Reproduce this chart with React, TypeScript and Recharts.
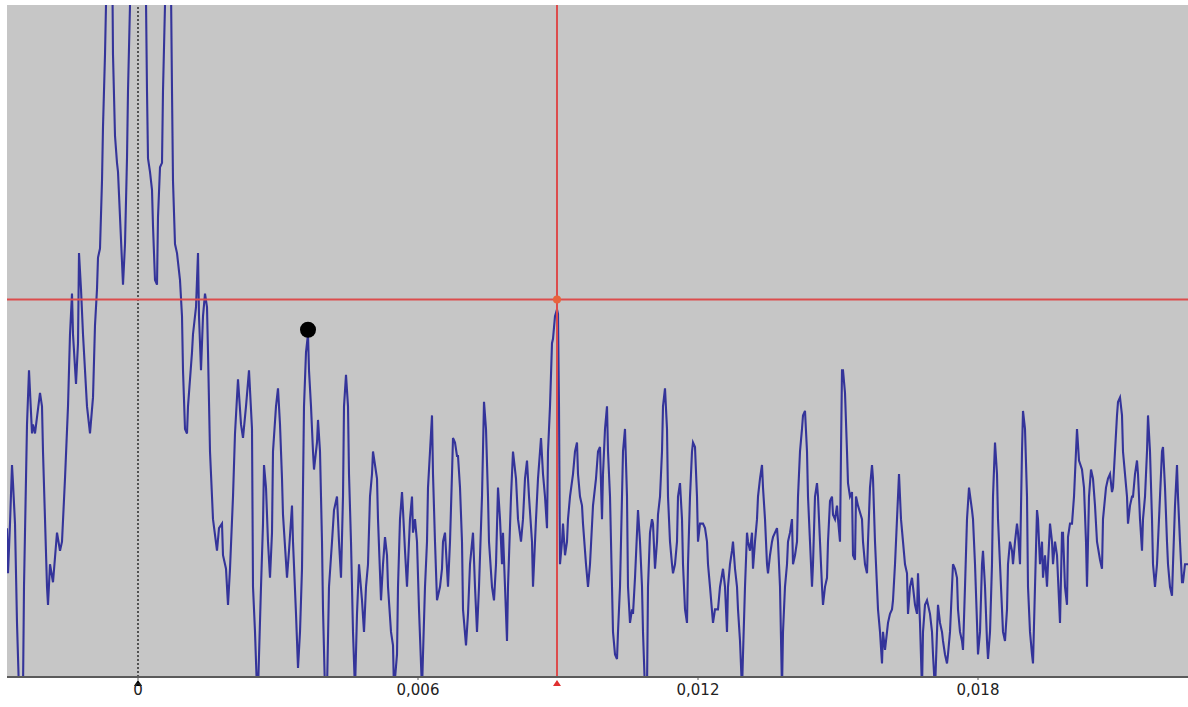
import React from "react";
import {
  LineChart,
  Line,
  XAxis,
  YAxis,
  CartesianGrid,
  ReferenceLine,
  ReferenceDot,
} from "recharts";

// trigger (t = 0) sits at sample 138, 280 samples = 6 ms
const TRIGGER_SAMPLE = 138;
const SAMPLE_PERIOD = 0.006 / 280;

// sample numbers of the trace vertices (peaks / valleys)
const sampleIndex = [
  7, 8, 10, 12, 13, 15, 17, 19, 23, 24,
  27, 29, 32, 33, 35, 40, 42, 43, 45, 47,
  48, 50, 53, 57, 60, 62, 65, 68, 70, 72,
  73, 76, 78, 79, 81, 83, 85, 87, 90, 93,
  95, 97, 98, 100, 102, 103, 105, 107, 110, 113,
  115, 117, 118, 120, 122, 123, 125, 127, 128, 130,
  135, 142, 147, 148, 150, 152, 153, 155, 157, 158,
  160, 162, 163, 165, 168, 172, 173, 175, 177, 178,
  180, 182, 183, 185, 187, 188, 192, 193, 196, 198,
  199, 201, 203, 205, 207, 208, 210, 213, 217, 219,
  222, 223, 226, 228, 230, 233, 235, 237, 238, 241,
  243, 246, 249, 252, 253, 255, 257, 258, 261, 263,
  264, 266, 268, 270, 272, 273, 276, 278, 280, 282,
  283, 287, 289, 292, 293, 296, 298, 300, 302, 304,
  306, 308, 309, 311, 313, 314, 317, 318, 320, 322,
  323, 325, 327, 329, 332, 334, 337, 339, 341, 343,
  344, 346, 348, 349, 351, 353, 355, 357, 359, 362,
  364, 366, 368, 370, 372, 373, 375, 377, 378, 381,
  383, 385, 387, 388, 391, 393, 394, 397, 398, 400,
  402, 403, 405, 407, 408, 410, 412, 413, 415, 417,
  419, 422, 423, 425, 427, 428, 430, 432, 433, 435,
  437, 440, 442, 443, 445, 447, 448, 450, 452, 453,
  455, 457, 458, 460, 462, 463, 466, 468, 470, 473,
  475, 477, 479, 482, 484, 486, 488, 489, 492, 494,
  496, 498, 500, 502, 503, 505, 507, 508, 511, 513,
  516, 518, 521, 523, 525, 527, 529, 532, 533, 536,
  538, 541, 543, 545, 547, 548, 550, 552, 553, 555,
  557, 558, 559, 560, 562, 563, 565, 567, 568, 570,
  573, 575, 577, 578, 580, 582, 583, 586, 588, 590,
  593, 596, 598, 600, 602, 603, 605, 607, 608, 610,
  612, 613, 615, 617, 618, 620, 622, 623, 625, 627,
  628, 630, 632, 633, 635, 637, 638, 640, 642, 643,
  645, 647, 648, 650, 652, 653, 655, 657, 658, 660,
  662, 663, 665, 667, 668, 670, 672, 673, 675, 677,
  678, 680, 682, 683, 685, 687, 688, 690, 692, 693,
  695, 697, 698, 700, 703, 705, 707, 708, 710, 713,
  715, 718, 720, 723, 725, 727, 728, 730, 732, 733,
  735, 737, 738, 740, 742, 743, 745, 747, 748, 750,
  752, 753, 755, 757, 758, 760, 762, 763, 765, 767,
  768, 770, 772, 773, 777, 778, 780, 782, 783, 785,
  787, 788, 790, 792, 793, 795, 797, 798, 800, 802,
  803, 805, 807, 808, 810, 812, 813, 815, 817, 818,
  820, 822, 823, 825, 827, 828, 830, 832, 833, 835,
  837, 838, 840, 841, 842, 843, 845, 847, 848, 850,
  852, 853, 855, 856, 858, 862, 863, 865, 867, 868,
  870, 872, 873, 875, 877, 878, 880, 882, 883, 885,
  887, 888, 890, 892, 893, 895, 897, 898, 899, 901,
  903, 905, 907, 908, 910, 912, 913, 915, 917, 918,
  920, 922, 923, 925, 927, 928, 930, 932, 933, 935,
  937, 938, 940, 942, 943, 945, 947, 948, 950, 952,
  953, 955, 957, 958, 960, 962, 963, 965, 967, 969,
  972, 973, 975, 977, 978, 980, 982, 983, 985, 987,
  988, 990, 992, 993, 995, 997, 998, 1000, 1002, 1003,
  1005, 1007, 1008, 1010, 1012, 1013, 1015, 1017, 1018, 1020,
  1022, 1023, 1025, 1027, 1028, 1030, 1032, 1033, 1035, 1037,
  1038, 1040, 1042, 1043, 1045, 1047, 1048, 1050, 1052, 1053,
  1055, 1057, 1058, 1060, 1062, 1063, 1065, 1067, 1068, 1070,
  1072, 1074, 1076, 1077, 1079, 1082, 1084, 1086, 1087, 1089,
  1091, 1093, 1095, 1097, 1100, 1102, 1103, 1106, 1108, 1110,
  1112, 1113, 1115, 1117, 1118, 1120, 1122, 1123, 1125, 1127,
  1128, 1130, 1132, 1133, 1135, 1137, 1138, 1140, 1142, 1143,
  1145, 1147, 1148, 1150, 1152, 1153, 1155, 1157, 1158, 1160,
  1162, 1163, 1165, 1167, 1168, 1170, 1172, 1173, 1175, 1177,
  1178, 1180, 1182, 1183, 1185, 1187, 1188,
];

// amplitude at each vertex (arbitrary units, full scale ~1490)
const amplitude = [
  330, 230, 340, 470, 430, 340, 120, -30, -30, 200,
  560, 680, 540, 560, 540, 630, 600, 500, 350, 200,
  160, 250, 210, 320, 280, 300, 440, 600, 760, 850,
  760, 650, 740, 940, 860, 760, 680, 600, 540, 620,
  780, 860, 930, 950, 1100, 1220, 1380, 1600, 2200, 1380,
  1200, 1140, 1120, 1020, 920, 870, 960, 1150, 1300, 1490,
  2300, 2300, 1300, 1150, 1120, 1080, 1000, 880, 870, 1020,
  1130, 1140, 1300, 1490, 2200, 1300, 1100, 960, 940, 920,
  880, 800, 680, 550, 540, 600, 720, 760, 820, 940,
  800, 680, 800, 850, 820, 720, 500, 350, 280, 330,
  340, 270, 240, 160, 240, 400, 540, 620, 660, 560,
  530, 600, 680, 550, 200, 100, -30, -30, 200, 340,
  470, 420, 300, 220, 320, 500, 600, 640, 560, 440,
  360, 220, 280, 380, 300, 140, 20, 100, 240, 600,
  720, 760, 680, 600, 500, 460, 520, 570, 500, 300,
  150, -30, -30, 200, 300, 370, 400, 300, 220, 400,
  600, 670, 600, 450, 300, 100, -30, 140, 250, 170,
  100, 200, 250, 400, 450, 500, 470, 440, 350, 170,
  250, 310, 270, 200, 100, 70, -30, 50, 200, 350,
  410, 370, 280, 200, 250, 350, 400, 320, 350, 300,
  150, -30, 50, 200, 300, 420, 500, 580, 450, 300,
  170, 200, 240, 300, 320, 240, 200, 300, 450, 530,
  520, 490, 490, 420, 300, 150, 70, 140, 250, 320,
  200, 100, 200, 400, 610, 550, 400, 300, 200, 170,
  250, 420, 350, 250, 320, 200, 80, 200, 400, 500,
  440, 350, 300, 350, 440, 480, 400, 300, 200, 350,
  440, 530, 450, 400, 330, 500, 600, 740, 750, 800,
  815, 805, 600, 250, 300, 340, 270, 300, 350, 400,
  450, 500, 520, 450, 400, 380, 340, 250, 200, 250,
  380, 440, 500, 510, 350, 450, 550, 600, 500, 400,
  200, 100, 50, 40, 100, 200, 400, 500, 550, 400,
  200, 120, 150, 140, 220, 320, 370, 300, 200, 100,
  -30, -30, 200, 320, 350, 340, 240, 300, 360, 400,
  500, 600, 640, 550, 400, 300, 250, 230, 250, 300,
  400, 430, 350, 250, 150, 120, 250, 400, 500, 520,
  510, 400, 300, 340, 340, 330, 300, 250, 200, 120,
  150, 150, 200, 240, 200, 100, 200, 250, 280, 300,
  240, 200, 150, 80, -30, 50, 200, 320, 300, 280,
  320, 240, 300, 350, 400, 440, 470, 420, 350, 250,
  230, 270, 300, 310, 330, 300, 200, -30, 100, 200,
  250, 300, 320, 350, 250, 270, 300, 400, 500, 550,
  580, 590, 500, 400, 300, 200, 250, 400, 430, 400,
  300, 200, 160, 200, 220, 300, 390, 400, 360, 350,
  380, 350, 300, 500, 680, 680, 630, 500, 430, 400,
  410, 270, 260, 400, 380, 350, 300, 250, 230, 300,
  420, 470, 440, 300, 200, 150, 100, 30, 100, 60,
  100, 120, 140, 150, 170, 250, 350, 400, 450, 350,
  300, 250, 230, 140, 200, 220, 200, 160, 140, 230,
  120, -30, 100, 160, 170, 160, 140, 100, 50, -30,
  100, 160, 120, 100, 80, 50, 30, 50, 100, 200,
  250, 240, 220, 150, 100, 80, 60, 200, 350, 420,
  370, 350, 250, 120, 50, 100, 250, 280, 200, 80,
  40, 100, 250, 400, 520, 450, 350, 250, 150, 100,
  80, 150, 250, 300, 280, 250, 300, 340, 320, 250,
  500, 590, 550, 400, 200, 100, 50, 30, 200, 370,
  350, 250, 300, 220, 270, 200, 250, 340, 300, 250,
  300, 270, 220, 120, 320, 320, 200, 160, 310, 340,
  340, 400, 500, 550, 480, 460, 420, 300, 200, 400,
  460, 440, 380, 300, 260, 240, 350, 420, 440, 450,
  410, 420, 500, 580, 610, 620, 580, 500, 450, 400,
  340, 380, 400, 400, 450, 480, 450, 350, 280, 350,
  400, 500, 580, 500, 350, 250, 200, 250, 300, 400,
  500, 510, 420, 300, 250, 200, 180, 250, 380, 470,
  400, 300, 210, 210, 250, 250, 250,
];

const tickValues = [0, 0.006, 0.012, 0.018];

// cursors
const cursorSample = 557;
const cursorLevel = 837;
const markerSample = 308;
const markerLevel = 770;

const toTime = (k: number) => (k - TRIGGER_SAMPLE) * SAMPLE_PERIOD;

const data = sampleIndex.map((k, i) => ({ t: toTime(k), amp: amplitude[i] }));

const formatTick = (v: number) =>
  Math.abs(v) < 1e-9 ? "0" : v.toFixed(3).replace(".", ",");

const arrow = (color: string) => (props: any) => {
  const { cx, cy } = props;
  return (
    <polygon
      points={`${cx - 4},${cy + 9} ${cx + 4},${cy + 9} ${cx},${cy + 3}`}
      fill={color}
    />
  );
};

export default function App() {
  return (
    <div style={{ width: 1188, height: 707, background: "#fff" }}>
      <style>{"body{margin:0}"}</style>
      <LineChart
        width={1188}
        height={707}
        data={data}
        margin={{ top: 5, right: 0, left: 7, bottom: 0 }}
      >
        <CartesianGrid fill="#c6c6c6" horizontal={false} vertical={false} />
        <XAxis
          type="number"
          dataKey="t"
          domain={[toTime(7), toTime(1188)]}
          allowDataOverflow
          ticks={tickValues}
          tickFormatter={formatTick}
          height={30}
          tickSize={3}
          tickMargin={4}
          axisLine={{ stroke: "#5a5a5a", strokeWidth: 2 }}
          tickLine={{ stroke: "#5a5a5a" }}
          tick={{ fill: "#222", fontSize: 15, fontFamily: "'DejaVu Sans', sans-serif" }}
        />
        <YAxis hide domain={[0, 1490]} allowDataOverflow />
        <ReferenceLine x={0} stroke="#222" strokeWidth={1.4} strokeDasharray="2 2" />
        <Line
          type="linear"
          dataKey="amp"
          stroke="#34349a"
          strokeWidth={2.1}
          dot={false}
          activeDot={false}
          isAnimationActive={false}
        />
        <ReferenceLine y={cursorLevel} stroke="#dc4c4c" strokeWidth={2} />
        <ReferenceLine x={toTime(cursorSample)} stroke="#dc4c4c" strokeWidth={2} />
        <ReferenceDot
          x={toTime(cursorSample)}
          y={cursorLevel}
          r={4}
          fill="#e8643c"
          stroke="none"
        />
        <ReferenceDot
          x={toTime(markerSample)}
          y={markerLevel}
          r={8}
          fill="#000"
          stroke="none"
        />
        <ReferenceDot
          x={0}
          y={0}
          ifOverflow="visible"
          shape={arrow("#000")}
        />
        <ReferenceDot
          x={toTime(cursorSample)}
          y={0}
          ifOverflow="visible"
          shape={arrow("#e03030")}
        />
      </LineChart>
    </div>
  );
}
